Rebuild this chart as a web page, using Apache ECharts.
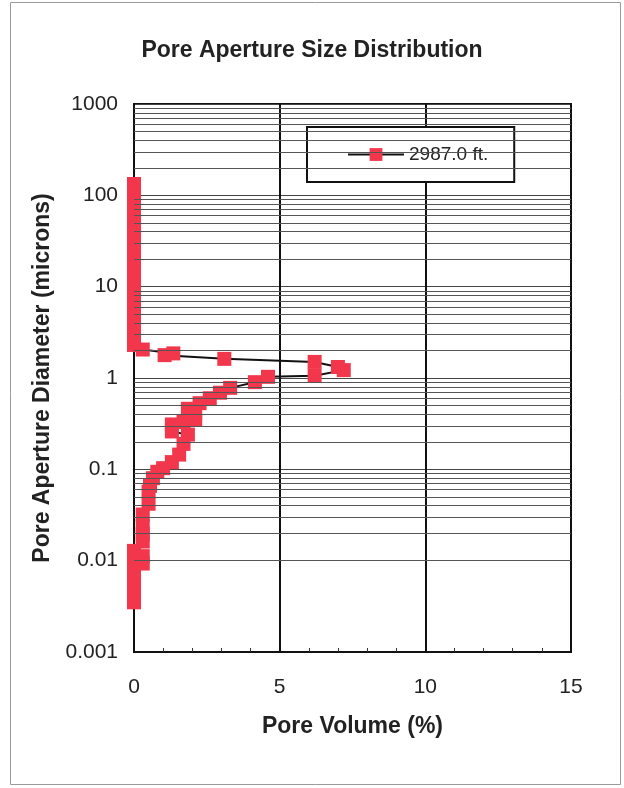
<!DOCTYPE html>
<html>
<head>
<meta charset="utf-8">
<script src="https://cdn.jsdelivr.net/npm/echarts@6/dist/echarts.min.js"></script>
<style>
html,body{margin:0;padding:0;background:#fff;}
#chart{width:624px;height:788px;}
</style>
</head>
<body>
<div id="chart"></div>
<script>
// ---- Data ----
const seriesName = '2987.0 ft.';
const poreVolume = [
  0, 0, 0, 0, 0, 0, 0, 0, 0, 0, 0, 0, 0, 0, 0, 0, 0, 0, 0,
  0.3, 1.35, 1.05, 3.1, 6.2, 7.0, 7.2, 6.2, 4.6, 4.15, 3.3,
  2.95, 2.6, 2.25, 1.85, 2.1, 2.1, 1.7, 1.3, 1.3, 1.85,
  1.7, 1.55, 1.3, 1.0, 0.8, 0.65, 0.55, 0.5, 0.5, 0.3,
  0.3, 0.3, 0.3, 0, 0.3, 0, 0.3, 0, 0, 0, 0, 0
];
const poreDiameter = [
  133, 105, 83, 66, 52, 41, 33, 26, 21, 16.5, 13, 10.3, 8.2, 6.5, 5.1, 4.1, 3.2, 2.6, 2.3,
  2.05, 1.86, 1.78, 1.62, 1.50, 1.32, 1.22, 1.06, 1.03, 0.90, 0.78,
  0.69, 0.60, 0.53, 0.46, 0.41, 0.35, 0.33, 0.31, 0.26, 0.24,
  0.19, 0.145, 0.12, 0.103, 0.094, 0.080, 0.066, 0.057, 0.042, 0.032,
  0.024, 0.0195, 0.0162, 0.0128, 0.0112, 0.0102, 0.0093, 0.0082, 0.0066, 0.0053, 0.0043, 0.0035
];
const xTicks = [0, 5, 10, 15];
const yDecades = [0.001, 0.01, 0.1, 1, 10, 100, 1000];
const minorMultipliers = [2, 3, 4, 5, 6, 7, 8, 9];

// ---- Build ----
const pts = poreVolume.map((v, i) => [v, poreDiameter[i]]);
const minorLines = [];
yDecades.slice(0, -1).forEach(d => minorMultipliers.forEach(m => minorLines.push({ yAxis: +(d * m).toPrecision(3) })));

const FONT = 'Liberation Sans, Arial, sans-serif';
const chart = echarts.init(document.getElementById('chart'), null, { renderer: 'canvas' });
chart.setOption({
  backgroundColor: '#fff',
  animation: false,
  title: {
    text: 'Pore Aperture Size Distribution',
    left: 'center', top: 34,
    textStyle: { fontFamily: FONT, fontSize: 23, fontWeight: 'bold', color: '#222' }
  },
  graphic: [{
    type: 'rect', silent: true, z: -1,
    shape: { x: 10.5, y: 2.5, width: 610, height: 782 },
    style: { fill: 'none', stroke: '#9a9a9a', lineWidth: 1 }
  }],
  legend: {
    left: 307, top: 127,
    padding: [18, 26, 18, 40],
    itemWidth: 56, itemHeight: 16,
    backgroundColor: '#fff',
    borderColor: '#111', borderWidth: 2,
    textStyle: { fontFamily: FONT, fontSize: 19, color: '#222' },
    data: [seriesName]
  },
  grid: {
    left: 134, right: 53, top: 104, bottom: 136,
    show: true, borderColor: '#111', borderWidth: 2, backgroundColor: 'transparent'
  },
  xAxis: {
    type: 'value', min: xTicks[0], max: xTicks[xTicks.length - 1], interval: 5,
    name: 'Pore Volume (%)', nameLocation: 'middle', nameGap: 63,
    nameTextStyle: { fontFamily: FONT, fontSize: 23, fontWeight: 'bold', color: '#222' },
    axisLine: { lineStyle: { color: '#111', width: 2 } },
    axisTick: { show: true, inside: true, length: 5, lineStyle: { color: '#111' } },
    minorTick: { show: true, splitNumber: 5, length: 4, lineStyle: { color: '#333' } },
    axisLabel: { margin: 25, fontFamily: FONT, fontSize: 21, color: '#222' },
    splitLine: { show: true, lineStyle: { color: '#111', width: 2 } }
  },
  yAxis: {
    type: 'log', logBase: 10, min: yDecades[0], max: yDecades[yDecades.length - 1],
    name: 'Pore Aperture Diameter (microns)', nameLocation: 'middle', nameGap: 77,
    nameTextStyle: { fontFamily: FONT, fontSize: 23, fontWeight: 'bold', color: '#222' },
    axisLine: { show: true, lineStyle: { color: '#111', width: 2 } },
    axisTick: { show: false },
    axisLabel: {
      margin: 16, fontFamily: FONT, fontSize: 21, color: '#222',
      formatter: v => String(+v.toPrecision(3))
    },
    splitLine: { show: true, lineStyle: { color: '#444', width: 1 } }
  },
  series: [
    {
      name: 'grid-minor', type: 'line', data: [], z: 1, silent: true,
      markLine: {
        silent: true, symbol: 'none', animation: false,
        label: { show: false },
        lineStyle: { color: '#555', width: 1, type: 'solid' },
        data: minorLines
      }
    },
    {
      name: seriesName, type: 'line', z: 3,
      data: pts,
      symbol: 'rect', symbolSize: 14,
      itemStyle: { color: '#F2364C' },
      lineStyle: { color: '#111', width: 2 }
    }
  ]
});
</script>
</body>
</html>
